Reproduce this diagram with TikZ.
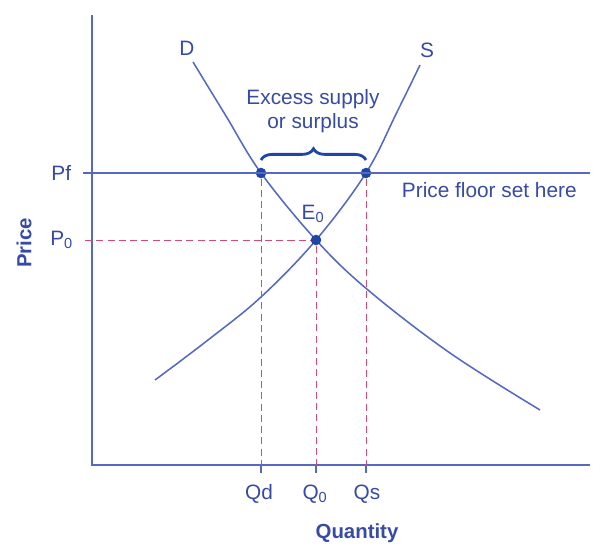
\documentclass[tikz,border=0pt]{standalone}
\usepackage{fontspec}
\setmainfont{Liberation Sans}
\usetikzlibrary{arrows.meta,positioning,calc,decorations.pathreplacing}
\definecolor{curveblue}{RGB}{85,105,195}
\definecolor{textblue}{RGB}{55,75,165}
\definecolor{dotblue}{RGB}{30,70,165}
\definecolor{guidered}{RGB}{210,75,115}
\tikzset{
  axis/.style   = {draw=curveblue, line width=1.1pt},
  curve/.style  = {draw=curveblue, line width=1.1pt},
  guide/.style  = {draw=guidered, dashed, dash pattern=on 5pt off 3pt, line width=0.7pt},
  dot/.style    = {circle, fill=dotblue, inner sep=0pt, minimum size=7.5pt},
  lab/.style    = {text=textblue, font=\fontsize{14.8}{17}\selectfont, align=center},
  axlab/.style  = {text=textblue, font=\fontsize{14.5}{16}\selectfont\bfseries},
}

\begin{document}
\begin{tikzpicture}[x=0.025cm, y=-0.025cm]
  \useasboundingbox (0,0) rectangle (602,546);

  % axes
  \coordinate (o) at (92,465);
  \coordinate (ytop) at (92,15);
  \coordinate (xend) at (590,465);
  \draw[axis] (ytop) -- (o) -- (xend);

  % curves
  \draw[curve] plot[smooth, tension=0.6] coordinates
    {(193,62) (226,116) (261,173) (316,240) (368,290) (450,353) (540,410)};
  \draw[curve] plot[smooth, tension=0.6] coordinates
    {(155,380) (208,340) (261,297) (316,240) (366,173) (397,112) (420,65)};
  \node[lab] (dlab) at (187,48) {D};
  \node[lab] (slab) at (427,50) {S};

  % points
  \node[dot] (qd) at (261,173) {};
  \node[dot] (qs) at (366,173) {};
  \node[dot] (eq) at (316,240) {};
  \node[lab] (elab) at (313,214) {E\textsubscript{0}};

  % price floor
  \coordinate (pfl) at (83,173);
  \coordinate (pfr) at (590,173);
  \draw[axis] (pfl) -- (pfr);
  \node[lab, anchor=east] (pf) at (76,173) {Pf};
  \node[lab, anchor=west] (floor) at (397,190) {Price floor set here};

  % equilibrium guides
  \coordinate (p0) at (85,240);
  \draw[guide] (p0) -- (eq);
  \node[lab, anchor=east] (p0lab) at (78,240) {P\textsubscript{0}};
  \foreach \n/\x in {qd/261, eq/316, qs/366} {
    \coordinate (\n ax) at (\x,465);
    \draw[guide] (\n) -- (\n ax);
    \draw[axis, line width=0.8pt] (\n ax) -- ++(0,8);
  }
  \node[lab] (qdlab) at (259,494) {Qd};
  \node[lab] (q0lab) at (315,494) {Q\textsubscript{0}};
  \node[lab] (qslab) at (367,494) {Qs};

  % surplus
  \coordinate (bl) at (261,160);
  \coordinate (br) at (366,160);
  \draw[draw=dotblue, line width=2pt, decorate,
        decoration={brace, amplitude=8pt}] (bl) -- (br);
  \node[lab] (surplus) at (313,111) {Excess supply\\or surplus};

  % axis labels
  \node[axlab] (qty) at (357,533) {Quantity};
  \node[axlab, rotate=90] (price) at (24,243) {Price};
\end{tikzpicture}
\end{document}
